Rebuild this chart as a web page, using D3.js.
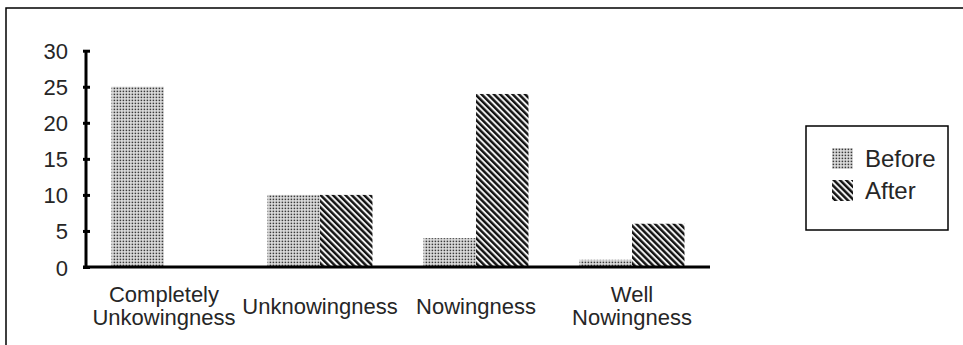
<!DOCTYPE html>
<html>
<head>
<meta charset="utf-8">
<script src="https://cdn.jsdelivr.net/npm/d3@7"></script>
<style>
  html, body { margin: 0; padding: 0; background: #fff; }
  svg { display: block; }
  text { font-family: "Liberation Sans", Arial, sans-serif; fill: #262626; }
</style>
</head>
<body>
<svg id="chart" width="963" height="345"></svg>
<script>
// Survey responses before and after, by level of knowing
const categories = [
  ["Completely", "Unkowingness"],
  ["Unknowingness"],
  ["Nowingness"],
  ["Well", "Nowingness"]
];
const seriesNames = ["Before", "After"];
const beforeValues = [25, 10, 4, 1];
const afterValues = [0, 10, 24, 6];
const yTickValues = [0, 5, 10, 15, 20, 25, 30];

const svg = d3.select("#chart");
const defs = svg.append("defs");

// Dotted fill for "Before"
const dots = defs.append("pattern")
  .attr("id", "pat-before")
  .attr("patternUnits", "userSpaceOnUse")
  .attr("width", 3).attr("height", 3);
dots.append("rect").attr("width", 3).attr("height", 3).attr("fill", "#e2e2e2");
dots.append("rect").attr("x", 0.6).attr("y", 0.6).attr("width", 1.6).attr("height", 1.6).attr("fill", "#3a3a3a");

// Diagonal stripes for "After"
const stripes = defs.append("pattern")
  .attr("id", "pat-after")
  .attr("patternUnits", "userSpaceOnUse")
  .attr("width", 4.4).attr("height", 4.4)
  .attr("patternTransform", "rotate(-45)");
stripes.append("rect").attr("width", 4.4).attr("height", 4.4).attr("fill", "#f0f0f0");
stripes.append("rect").attr("x", 0).attr("width", 2.4).attr("height", 4.4).attr("fill", "#111");

const fills = { Before: "url(#pat-before)", After: "url(#pat-after)" };

// Outer frame (top and left edges)
svg.append("path")
  .attr("d", "M6,345 V8 H963")
  .attr("fill", "none").attr("stroke", "#000").attr("stroke-width", 1.5);

const plotLeft = 86, plotRight = 710, plotTop = 50.7, plotBottom = 267;

const x0 = d3.scaleBand()
  .domain(d3.range(categories.length))
  .range([plotLeft, plotRight])
  .paddingInner(0).paddingOuter(0);

const x1 = d3.scaleBand()
  .domain(seriesNames)
  .range([0, x0.bandwidth()])
  .paddingInner(0).paddingOuter(0.486);

const y = d3.scaleLinear().domain([0, 30]).range([plotBottom, plotTop]);

// Bars
const rows = categories.map((c, i) => ({ i, Before: beforeValues[i], After: afterValues[i] }));
const groups = svg.append("g").selectAll("g").data(rows).join("g")
  .attr("transform", d => `translate(${x0(d.i)},0)`);
groups.selectAll("rect")
  .data(d => seriesNames.map(s => ({ s, v: d[s] })))
  .join("rect")
  .attr("x", d => x1(d.s))
  .attr("y", d => y(d.v))
  .attr("width", x1.bandwidth())
  .attr("height", d => y(0) - y(d.v))
  .attr("fill", d => fills[d.s]);

// Y axis: ticks crossing the axis line, labels on the left
const yAxis = svg.append("g")
  .attr("transform", "translate(83,0)")
  .call(d3.axisLeft(y).tickValues(yTickValues).tickSize(-7).tickPadding(15));
yAxis.select(".domain").remove();
yAxis.selectAll(".tick line").attr("stroke", "#000").attr("stroke-width", 3);
yAxis.selectAll(".tick text")
  .attr("font-size", 22)
  .attr("dy", null)
  .attr("y", 8)
  .style("font-family", "'Liberation Sans', Arial, sans-serif")
  .attr("fill", "#262626");

svg.append("line")
  .attr("x1", plotLeft).attr("x2", plotLeft)
  .attr("y1", y(30)).attr("y2", y(0) + 1.5)
  .attr("stroke", "#000").attr("stroke-width", 3);

// Baseline
svg.append("line")
  .attr("x1", 83).attr("x2", plotRight)
  .attr("y1", y(0)).attr("y2", y(0))
  .attr("stroke", "#000").attr("stroke-width", 3);

// Category labels
const lineGap = 23;
const labelMid = 313.5;
svg.append("g").selectAll("text").data(categories).join("text")
  .attr("text-anchor", "middle")
  .attr("font-size", 22)
  .each(function(lines, i) {
    const cx = x0(i) + x0.bandwidth() / 2;
    const first = labelMid - (lines.length - 1) * lineGap / 2;
    d3.select(this).selectAll("tspan").data(lines).join("tspan")
      .attr("x", cx)
      .attr("y", (d, k) => first + k * lineGap)
      .text(d => d);
  });

// Legend
const legend = svg.append("g");
legend.append("rect")
  .attr("x", 806).attr("y", 126).attr("width", 142).attr("height", 104)
  .attr("fill", "#fff").attr("stroke", "#000").attr("stroke-width", 1.5);
const items = legend.selectAll("g.item").data(seriesNames).join("g")
  .attr("class", "item")
  .attr("transform", (d, i) => `translate(832,${148 + i * 32})`);
items.append("rect")
  .attr("width", 21).attr("height", 21)
  .attr("fill", d => fills[d]);
items.append("text")
  .attr("x", 33).attr("y", 19)
  .attr("font-size", 24)
  .text(d => d);
</script>
</body>
</html>
